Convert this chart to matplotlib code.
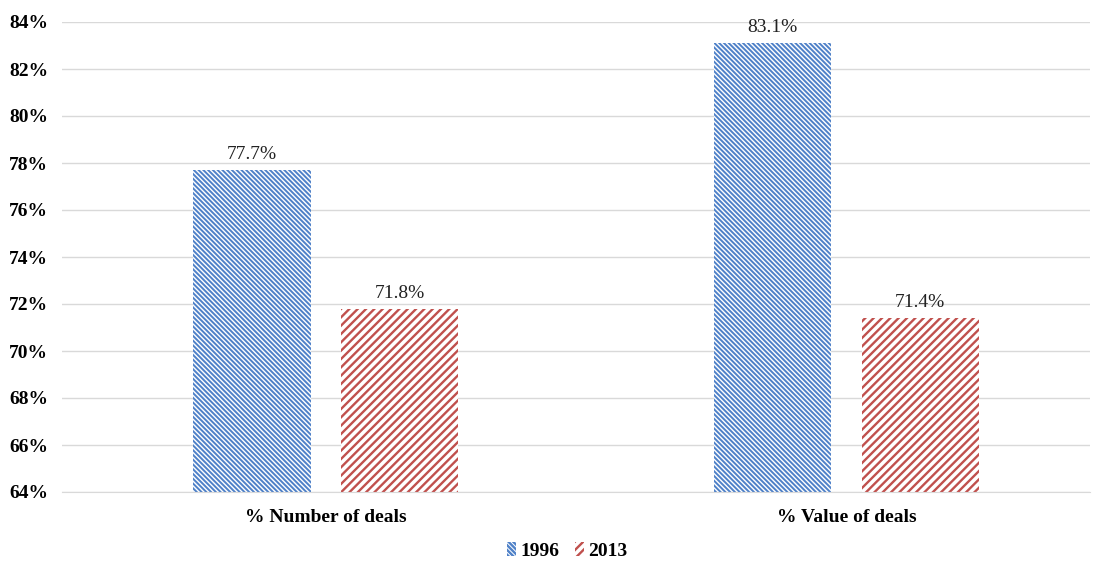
import matplotlib
matplotlib.use("Agg")
import matplotlib.pyplot as plt
import numpy as np

categories = ["% Number of deals", "% Value of deals"]
series_names = ["1996", "2013"]
values_1996 = [77.7, 83.1]
values_2013 = [71.8, 71.4]
y_ticks = [64, 66, 68, 70, 72, 74, 76, 78, 80, 82, 84]

blue = "#4F81C8"
red = "#C0504D"

plt.rcParams["font.family"] = ["Liberation Serif", "DejaVu Serif"]

fig = plt.figure(figsize=(10.98, 5.63), dpi=100)
ax = fig.add_axes([62 / 1098, 1 - 492 / 563, (1090 - 62) / 1098, (492 - 22) / 563])

x = np.arange(len(categories))
bw = 0.225
off = 0.142

def hatched_bars(xs, vals, color, hatch, hlw):
    bars = ax.bar(xs, np.array(vals) - 64, bottom=64, width=bw, facecolor="white",
                  edgecolor=color, linewidth=0, hatch=hatch, zorder=2)
    for b in bars:
        try:
            b.set_hatch_linewidth(hlw)
        except AttributeError:
            pass
    return bars

plt.rcParams["hatch.linewidth"] = 1.4
b1 = hatched_bars(x - off, values_1996, blue, "\\" * 7, 1.4)
plt.rcParams["hatch.linewidth"] = 1.7
b2 = hatched_bars(x + off, values_2013, red, "////", 1.7)

for bars, vals in ((b1, values_1996), (b2, values_2013)):
    for b, v in zip(bars, vals):
        ax.text(b.get_x() + b.get_width() / 2, v + 0.3, f"{v:.1f}%",
                ha="center", va="bottom", fontsize=14, color="#222222")

ax.set_xlim(-0.507, 1.468)
ax.set_ylim(64, 84)
ax.set_yticks(y_ticks)
ax.set_yticklabels([f"{t}%" for t in y_ticks], fontsize=14, fontweight="bold")
ax.set_xticks(x)
ax.set_xticklabels(categories, fontsize=14, fontweight="bold")
ax.tick_params(axis="both", length=0)
ax.tick_params(axis="y", pad=10)
ax.tick_params(axis="x", pad=12)
ax.grid(axis="y", color="#D9D9D9", linewidth=1, zorder=0)
ax.set_axisbelow(True)
for s in ("top", "right", "left"):
    ax.spines[s].set_visible(False)
ax.spines["bottom"].set_color("#D9D9D9")

fig.legend([b1[0], b2[0]], series_names, loc="center", bbox_to_anchor=(567 / 1098, 1 - 551 / 563),
           ncol=2, frameon=False, prop={"weight": "bold", "size": 14},
           handlelength=0.5, handleheight=0.7, handletextpad=0.2, columnspacing=0.8)

fig.savefig("out.png", dpi=100)
